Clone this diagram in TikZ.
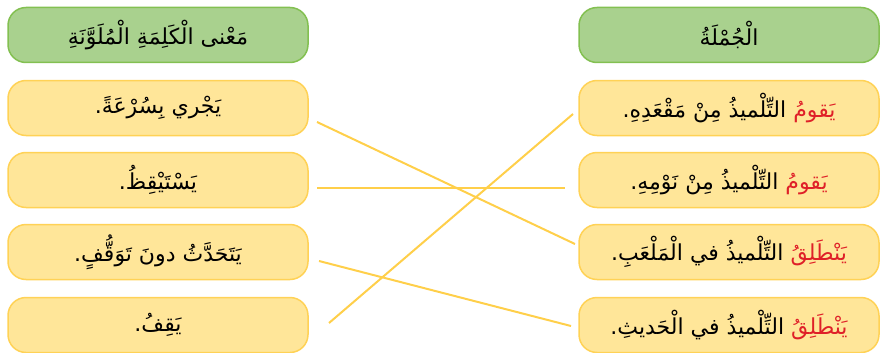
\documentclass[tikz,border=0pt]{standalone}
\usepackage{fontspec}
\newfontfamily\arabicfont[Script=Arabic]{DejaVu Sans}
\newfontfamily\arabicred[Script=Arabic,Color=DF2028]{DejaVu Sans}
\TeXXeTstate=1
\newlength{\du}
\setlength{\du}{1pt}

\definecolor{boxfill}{rgb}{1.000000, 0.901961, 0.600000}
\definecolor{boxline}{rgb}{1.000000, 0.823529, 0.337255}
\definecolor{headfill}{rgb}{0.662745, 0.819608, 0.556863}
\definecolor{headline}{rgb}{0.513725, 0.752941, 0.317647}
\definecolor{linkline}{rgb}{1.000000, 0.811765, 0.290196}

\newcommand{\redword}[1]{{\arabicred\fontsize{22}{26}\selectfont #1}}

\tikzset{
  cardbox/.style={draw=boxline, fill=boxfill, line width=1.5\du, rounded corners=18\du,
    minimum width=300\du, minimum height=55\du, inner sep=0pt,
    font=\arabicfont\fontsize{22}{26}\selectfont},
  headbox/.style={cardbox, draw=headline, fill=headfill},
  linkpath/.style={draw=linkline, line width=2\du}
}

\begin{document}
\begin{tikzpicture}
\pgftransformxscale{1.000000}
\pgftransformyscale{-1.000000}
\useasboundingbox (0\du,0\du) rectangle (888\du,353\du);
% headers
\node[headbox] (lhead) at (158\du,35\du){\beginR مَعْنى الْكَلِمَةِ الْمُلَوَّنَةِ\endR};
\node[headbox] (rhead) at (729\du,35\du){\beginR الْجُمْلَةُ\endR};
% left column
\node[cardbox] (lone) at (158\du,108\du){\beginR يَجْري بِسُرْعَةً.\endR};
\node[cardbox] (ltwo) at (158\du,180\du){\beginR يَسْتَيْقِظُ.\endR};
\node[cardbox] (lthree) at (158\du,252\du){\beginR يَتَحَدَّثُ دونَ تَوَقُّفٍ.\endR};
\node[cardbox] (lfour) at (158\du,325\du){\beginR يَقِفُ.\endR};
% right column
\node[cardbox] (rone) at (729\du,108\du){\beginR\redword{يَقومُ} التِّلْميذُ مِنْ مَقْعَدِهِ.\endR};
\node[cardbox] (rtwo) at (729\du,180\du){\beginR\redword{يَقومُ} التِّلْميذُ مِنْ نَوْمِهِ.\endR};
\node[cardbox] (rthree) at (729\du,252\du){\beginR\redword{يَنْطَلِقُ} التِّلْميذُ في الْمَلْعَبِ.\endR};
\node[cardbox] (rfour) at (729\du,325\du){\beginR\redword{يَنْطَلِقُ} التِّلْميذُ في الْحَديثِ.\endR};
% line ends
\coordinate (aone) at (317\du,122\du);
\coordinate (atwo) at (317\du,188\du);
\coordinate (athree) at (319\du,261\du);
\coordinate (afour) at (329\du,323\du);
\coordinate (bone) at (573\du,114\du);
\coordinate (btwo) at (565\du,188\du);
\coordinate (bthree) at (575\du,244\du);
\coordinate (bfour) at (571\du,326\du);
% links
\draw[linkpath] (aone)--(bthree);
\draw[linkpath] (atwo)--(btwo);
\draw[linkpath] (athree)--(bfour);
\draw[linkpath] (afour)--(bone);
\end{tikzpicture}
\end{document}
